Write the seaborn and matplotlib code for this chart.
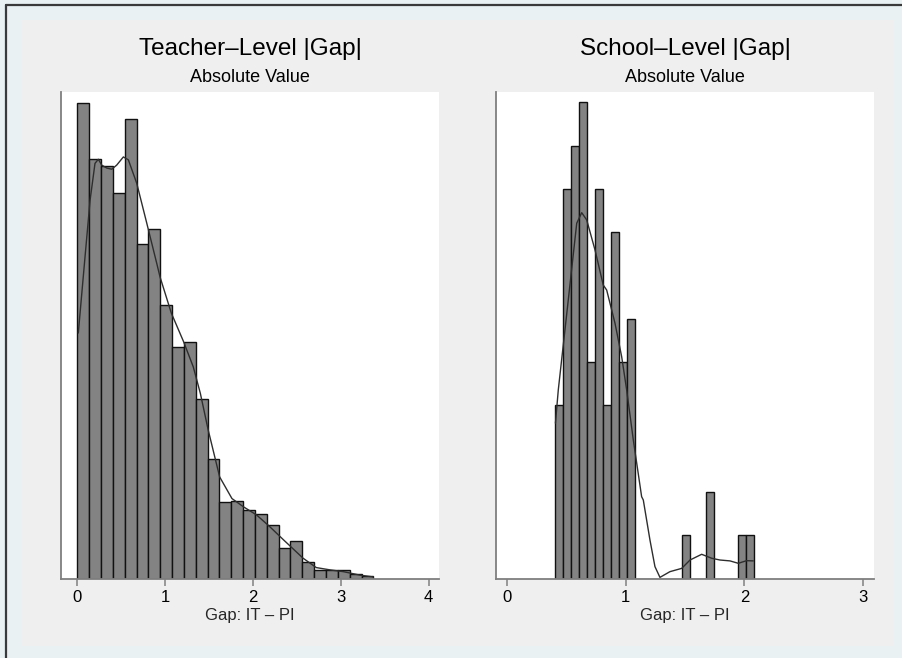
import numpy as np
import pandas as pd
import matplotlib
matplotlib.use("Agg")
import matplotlib.pyplot as plt
from matplotlib.patches import Rectangle
from matplotlib.lines import Line2D
import seaborn as sns

# ---------------- data ----------------
titles = ["Teacher\u2013Level |Gap|", "School\u2013Level |Gap|"]
subtitle = "Absolute Value"
xlabel = "Gap: IT \u2013 PI"

# Teacher-level histogram (density), 25 bins
teacher_bin_start = 0.0
teacher_bin_width = 0.1348
teacher_density = [0.814, 0.718, 0.705, 0.660, 0.785, 0.572, 0.597, 0.468, 0.396, 0.405,
                   0.307, 0.204, 0.131, 0.133, 0.118, 0.111, 0.091, 0.053, 0.065, 0.028,
                   0.015, 0.015, 0.015, 0.0075, 0.005]
teacher_kde_x = [0.011, 0.088, 0.145, 0.201, 0.239, 0.278, 0.335, 0.392, 0.448, 0.524,
                 0.581, 0.676, 0.790, 0.904, 0.941, 1.07, 1.21, 1.32, 1.40, 1.49,
                 1.62, 1.76, 1.89, 2.04, 2.19, 2.35, 2.57, 2.72, 2.88, 3.03, 3.22, 3.37]
teacher_kde_y = [0.420, 0.551, 0.647, 0.710, 0.717, 0.707, 0.702, 0.700, 0.707, 0.721,
                 0.716, 0.676, 0.608, 0.539, 0.516, 0.454, 0.405, 0.362, 0.317, 0.254,
                 0.174, 0.137, 0.123, 0.109, 0.089, 0.066, 0.035, 0.019, 0.015, 0.012, 0.006, 0.003]

# School-level histogram (counts -> density), 25 bins
school_bin_start = 0.409
school_bin_width = 0.0668
school_counts = [4, 9, 10, 11, 5, 9, 4, 8, 5, 6, 0, 0, 0, 0, 0, 0, 1, 0, 0, 2, 0, 0, 0, 1, 1]
school_kde_x = [0.410, 0.434, 0.518, 0.589, 0.631, 0.673, 0.743, 0.812, 0.841, 0.911,
                0.967, 1.009, 1.065, 1.135, 1.149, 1.205, 1.247, 1.289, 1.373, 1.472,
                1.542, 1.640, 1.724, 1.794, 1.878, 1.948, 2.018, 2.074]
school_kde_y = [0.707, 0.859, 1.268, 1.617, 1.665, 1.632, 1.495, 1.336, 1.313, 1.162,
                1.010, 0.859, 0.631, 0.373, 0.358, 0.176, 0.055, 0.006, 0.032, 0.047,
                0.085, 0.111, 0.093, 0.085, 0.081, 0.070, 0.082, 0.081]

xticks = [[0, 1, 2, 3, 4], [0, 1, 2, 3]]
xlims = [(-0.186, 4.117), (-0.0925, 3.092)]
ylims = [(0, 0.832), (0, 2.214)]

# ---------------- style ----------------
sns.set_theme(style="white")
plt.rcParams["font.family"] = ["Liberation Sans", "DejaVu Sans"]

W, H = 903, 658
fig = plt.figure(figsize=(W / 100, H / 100), dpi=100)
fig.patch.set_facecolor("#e9f1f3")

# inner gray panel and screenshot frame
fig.patches.append(Rectangle((21 / W, 1 - 646 / H), (893 - 21) / W, (646 - 20) / H,
                             transform=fig.transFigure, facecolor="#efefef",
                             edgecolor="none", zorder=-5))
fig.lines.append(Line2D([6 / W, 6 / W], [0, 1 - 5 / H], transform=fig.transFigure,
                        color="#3a3a3a", lw=1.6, zorder=-4))
fig.lines.append(Line2D([6 / W, 1], [1 - 5 / H, 1 - 5 / H], transform=fig.transFigure,
                        color="#3a3a3a", lw=1.6, zorder=-4))

bar_color = "#838383"
axis_gray = "#7f7f7f"

panels = [
    dict(x0=61, x1=439, start=teacher_bin_start, width=teacher_bin_width,
         heights=np.array(teacher_density, dtype=float),
         kx=teacher_kde_x, ky=teacher_kde_y),
    dict(x0=495.7, x1=874.3, start=school_bin_start, width=school_bin_width,
         heights=np.array(school_counts, dtype=float) / (sum(school_counts) * school_bin_width),
         kx=school_kde_x, ky=school_kde_y),
]

y_top, y_bot = 92, 578.7
for i, p in enumerate(panels):
    ax = fig.add_axes([p["x0"] / W, 1 - y_bot / H, (p["x1"] - p["x0"]) / W, (y_bot - y_top) / H])
    ax.set_zorder(1)
    ax.set_facecolor("white")
    n = len(p["heights"])
    lo = p["start"]
    hi = p["start"] + p["width"] * n
    centers = lo + p["width"] * (np.arange(n) + 0.5)
    df = pd.DataFrame({"x": centers, "w": p["heights"]})
    sns.histplot(data=df, x="x", weights="w", bins=n, binrange=(lo, hi), stat="count", ax=ax,
                 color=bar_color, edgecolor="#111111", linewidth=1.0, alpha=1.0)
    kde = pd.DataFrame({"x": p["kx"], "y": p["ky"]})
    sns.lineplot(data=kde, x="x", y="y", ax=ax, color="#2e2e2e", linewidth=1.0,
                 estimator=None, sort=False)
    ax.set_xlim(*xlims[i])
    ax.set_ylim(*ylims[i])
    ax.set_xticks(xticks[i])
    ax.set_xticklabels([str(t) for t in xticks[i]], fontsize=12)
    ax.set_yticks([])
    ax.set_ylabel("")
    ax.set_xlabel(xlabel, fontsize=12, labelpad=2)
    for s in ["top", "right"]:
        ax.spines[s].set_visible(False)
    for s in ["left", "bottom"]:
        ax.spines[s].set_color(axis_gray)
        ax.spines[s].set_linewidth(1.3)
    ax.tick_params(axis="x", direction="out", length=5, width=1.1, color=axis_gray,
                   pad=3, labelcolor="black", bottom=True)
    cx = (p["x0"] + p["x1"]) / 2 / W
    fig.text(cx, 1 - 49 / H, titles[i], ha="center", va="center", fontsize=17.5, color="black")
    fig.text(cx, 1 - 78 / H, subtitle, ha="center", va="center", fontsize=13, color="black")

fig.savefig("out.png", dpi=100, facecolor=fig.get_facecolor())
